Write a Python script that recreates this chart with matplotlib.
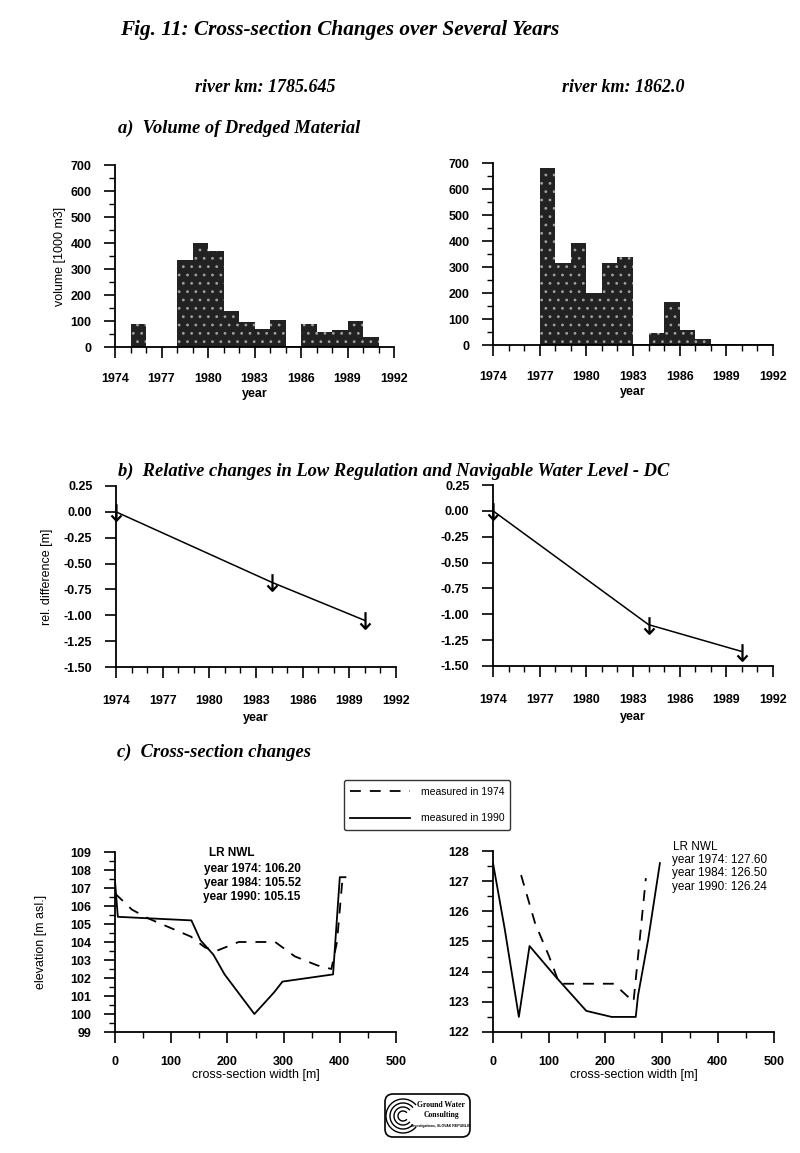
import matplotlib
matplotlib.use('Agg')
import matplotlib.pyplot as plt
from matplotlib.patches import FancyBboxPatch, Arc
from matplotlib.lines import Line2D
from matplotlib.path import Path

# a) dredged volume [1000 m3], bar = one year starting at given year
years_a_left = [1975, 1978, 1979, 1980, 1981, 1982, 1983, 1984, 1985, 1986, 1987, 1988, 1989, 1990]
volume_a_left = [90, 335, 400, 370, 140, 95, 70, 105, 5, 90, 58, 65, 100, 40]
years_a_right = [1977, 1978, 1979, 1980, 1981, 1982, 1983, 1984, 1985, 1986, 1987, 1988, 1989, 1990, 1991]
volume_a_right = [680, 315, 392, 200, 315, 338, 3, 45, 165, 58, 22, 3, 3, 3, 3]

# b) relative change of LR NWL [m]
years_b = [1974, 1984, 1990]
diff_b_left = [0.0, -0.68, -1.05]
diff_b_right = [0.0, -1.10, -1.36]

# c) cross-sections, width [m] / elevation [m asl.]
x74_left = [0, 30, 60, 135, 160, 180, 220, 285, 320, 360, 385, 395, 405]
z74_left = [106.7, 105.8, 105.3, 104.3, 103.7, 103.5, 104.0, 104.0, 103.2, 102.7, 102.5, 104.0, 107.6]
x90_left = [0, 5, 136, 152, 175, 195, 248, 283, 298, 388, 400, 410]
z90_left = [107.4, 105.4, 105.2, 104.1, 103.3, 102.2, 100.0, 101.2, 101.8, 102.2, 107.6, 107.6]
x74_right = [50, 75, 100, 118, 215, 250, 272]
z74_right = [127.2, 125.6, 124.5, 123.6, 123.6, 123.0, 127.1]
x90_right = [0, 21, 46, 65, 113, 166, 211, 254, 258, 276, 297]
z90_right = [127.6, 125.4, 122.5, 124.85, 123.8, 122.7, 122.5, 122.5, 123.2, 125.05, 127.6]

nwl_left = ['year 1974: 106.20', 'year 1984: 105.52', 'year 1990: 105.15']
nwl_right = ['year 1974: 127.60', 'year 1984: 126.50', 'year 1990: 126.24']

plt.rcParams['font.family'] = ['Liberation Sans', 'DejaVu Sans']
plt.rcParams['hatch.linewidth'] = 0.8
W, H = 800, 1153
fig = plt.figure(figsize=(W / 100, H / 100), dpi=100)

# down arrow marker, centred on the point
arrow = Path([(0, 1), (0, -1), (-0.6, -0.35), (0, -1), (0.6, -0.35)],
             [Path.MOVETO, Path.LINETO, Path.MOVETO, Path.LINETO, Path.LINETO])


def box(x0, x1, ytop, ybot):
    # pixel box -> figure fraction
    return [x0 / W, 1 - ybot / H, (x1 - x0) / W, (ybot - ytop) / H]


def style(ax, xmaj, xmin, ymaj, ymin, pad=9):
    for s in ['top', 'right']:
        ax.spines[s].set_visible(False)
    for s in ['left', 'bottom']:
        ax.spines[s].set_linewidth(1.3)
    ax.xaxis.set_major_locator(plt.MultipleLocator(xmaj))
    ax.xaxis.set_minor_locator(plt.MultipleLocator(xmin))
    ax.yaxis.set_major_locator(plt.MultipleLocator(ymaj))
    ax.yaxis.set_minor_locator(plt.MultipleLocator(ymin))
    ax.tick_params(which='major', length=8, width=1.2, pad=9, labelsize=9)
    ax.tick_params(axis='x', which='major', pad=pad)
    ax.tick_params(which='minor', length=4, width=1.0)
    for lab in ax.get_xticklabels() + ax.get_yticklabels():
        lab.set_fontweight('bold')


title_font = dict(family='Liberation Serif', style='italic', weight='bold')

fig.text(120 / W, 1 - 30 / H, 'Fig. 11: Cross-section Changes over Several Years',
         fontsize=15.3, va='center', ha='left', **title_font)
fig.text(265 / W, 1 - 87 / H, 'river km: 1785.645', fontsize=13, va='center', ha='center', **title_font)
fig.text(623 / W, 1 - 87 / H, 'river km: 1862.0', fontsize=13, va='center', ha='center', **title_font)
fig.text(118 / W, 1 - 128 / H, 'a)  Volume of Dredged Material', fontsize=13.3, va='center', ha='left', **title_font)
fig.text(118 / W, 1 - 471 / H, 'b)  Relative changes in Low Regulation and Navigable Water Level - DC',
         fontsize=13.3, va='center', ha='left', **title_font)
fig.text(117 / W, 1 - 752 / H, 'c)  Cross-section changes', fontsize=13.3, va='center', ha='left', **title_font)

# a) bars
for pos, yrs, vols in [((115, 394, 165, 347), years_a_left, volume_a_left),
                       ((493, 773, 163, 345), years_a_right, volume_a_right)]:
    ax = fig.add_axes(box(*pos))
    ax.bar(yrs, vols, width=1.0, align='edge', facecolor='#222222', edgecolor='#a0a0a0',
           hatch='..', linewidth=0)
    ax.set_xlim(1974, 1992)
    ax.set_ylim(0, 700)
    style(ax, 3, 1, 100, 50, pad=11)
    ax.set_xlabel('year', fontsize=9, fontweight='bold', labelpad=2)
    if yrs is years_a_left:
        ax.set_ylabel('volume [1000 m3]', fontsize=9, labelpad=3)

# b) lines
for pos, vals in [((116, 396, 486, 667), diff_b_left), ((493, 773, 485, 666), diff_b_right)]:
    ax = fig.add_axes(box(*pos))
    ax.plot(years_b, vals, color='black', lw=1.1, marker=arrow, markersize=12,
            markeredgewidth=1.6, markerfacecolor='none', clip_on=False)
    ax.set_xlim(1974, 1992)
    ax.set_ylim(-1.5, 0.25)
    style(ax, 3, 1, 0.25, 0.25, pad=12)
    ax.yaxis.set_major_formatter(plt.FormatStrFormatter('%.2f'))
    for lab in ax.get_yticklabels():
        lab.set_fontweight('bold')
    ax.set_xlabel('year', fontsize=9, fontweight='bold', labelpad=4)
    if vals is diff_b_left:
        ax.set_ylabel('rel. difference [m]', fontsize=9, labelpad=8)

# c) cross-sections
axl = fig.add_axes(box(115, 396, 852, 1032))
axl.plot(x74_left, z74_left, color='black', lw=1.3, ls=(0, (6, 5)))
axl.plot(x90_left, z90_left, color='black', lw=1.3)
axl.set_xlim(0, 500)
axl.set_ylim(99, 109)
style(axl, 100, 50, 1, 0.5)
axl.set_xlabel('cross-section width [m]', fontsize=9, labelpad=1)
axl.set_ylabel('elevation [m asl.]', fontsize=9, labelpad=17)
axl.text(208, 108.94, 'LR NWL', ha='center', va='center', fontsize=8.5, fontweight='bold')
for i, t in enumerate(nwl_left):
    axl.text(244, 108.05 - 0.77 * i, t, ha='center', va='center', fontsize=8.5, fontweight='bold')

axr = fig.add_axes(box(493, 774, 851, 1032))
axr.plot(x74_right, z74_right, color='black', lw=1.3, ls=(0, (6, 5)))
axr.plot(x90_right, z90_right, color='black', lw=1.3)
axr.set_xlim(0, 500)
axr.set_ylim(122, 128)
style(axr, 100, 50, 1, 0.5)
axr.set_xlabel('cross-section width [m]', fontsize=9, labelpad=1)
axr.text(360, 128.13, 'LR NWL', ha='center', va='center', fontsize=8.5)
for i, t in enumerate(nwl_right):
    axr.text(318, 127.7 - 0.44 * i, t, ha='left', va='center', fontsize=8.5)

handles = [Line2D([], [], color='black', lw=1.3, ls=(0, (6, 5))),
           Line2D([], [], color='black', lw=1.3)]
leg = fig.legend(handles, ['measured in 1974', 'measured in 1990'], loc='center',
                 bbox_to_anchor=(427 / W, 1 - 805 / H), fontsize=7.5, frameon=True, fancybox=True,
                 edgecolor='black', handlelength=5.8, labelspacing=1.6, borderpad=0.6, handletextpad=1.0)
leg.get_frame().set_linewidth(1.0)

# logo
lax = fig.add_axes(box(383, 472, 1092, 1139))
lax.set_xlim(0, 89)
lax.set_ylim(0, 47)
lax.axis('off')
lax.add_patch(FancyBboxPatch((2, 2), 85, 43, boxstyle='round,pad=0,rounding_size=8',
                             facecolor='white', edgecolor='black', lw=1.2))
for r in [5, 9, 13, 17]:
    lax.add_patch(Arc((20, 23), 2 * r, 2 * r, theta1=40, theta2=320, color='black', lw=1.0))
lax.text(58, 34, 'Ground Water', ha='center', va='center', fontsize=5.5, family='Liberation Serif',
         weight='bold')
lax.text(58, 24, 'Consulting', ha='center', va='center', fontsize=5.5, family='Liberation Serif',
         weight='bold')
lax.text(58, 13, 'Investigations, SLOVAK REPUBLIC', ha='center', va='center', fontsize=2.5,
         weight='bold')

fig.savefig('out.png', dpi=100)
